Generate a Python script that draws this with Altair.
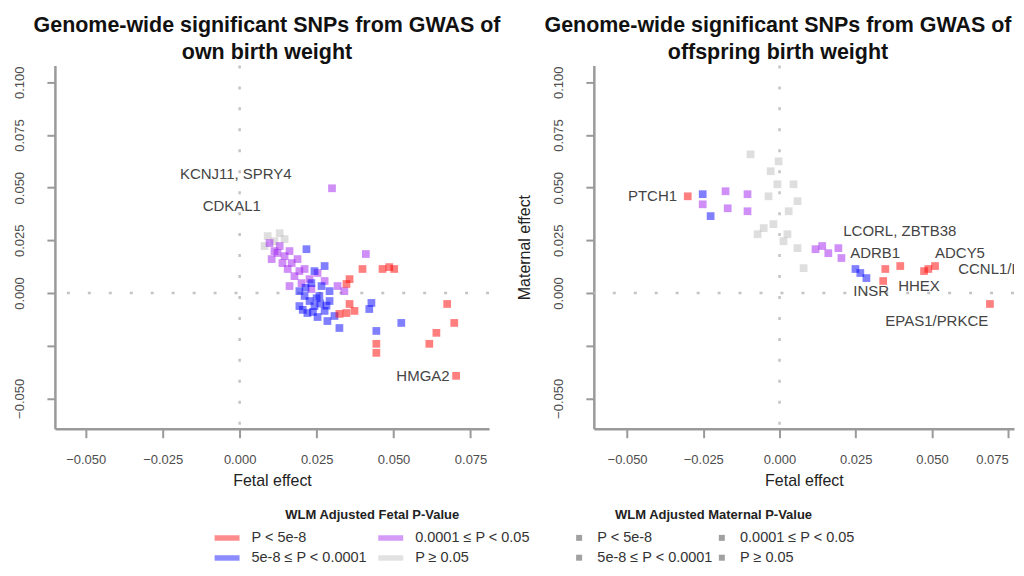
import altair as alt
import pandas as pd

FONT = "Liberation Sans"

# P-value categories (legends fill column by column: red, blue | purple, grey)
CATS = ["P < 5e-8", "5e-8 ≤ P < 0.0001", "0.0001 ≤ P < 0.05", "P ≥ 0.05"]
PALETTE = ["#ff0000", "#0000ff", "#a020f0", "#bebebe"]
KEY_GREY = ["#8a8a8a"] * 4

X_TICKS = [-0.05, -0.025, 0.0, 0.025, 0.05, 0.075]
Y_TICKS = [-0.05, -0.025, 0.0, 0.025, 0.05, 0.075, 0.1]

# ---------- left panel: own birth weight (coloured by fetal P) ----------
L_grey_x = [0.0091, 0.0113, 0.0130, 0.0081, 0.0146]
L_grey_y = [0.0270, 0.0246, 0.0284, 0.0223, 0.0256]
L_purple_x = [0.0300, 0.0410, 0.0097, 0.0113, 0.0130, 0.0146, 0.0162, 0.0139, 0.0169, 0.0188,
              0.0194, 0.0178, 0.0211, 0.0227, 0.0253, 0.0276, 0.0201, 0.0162, 0.0233, 0.0123,
              0.0156, 0.0104, 0.0318, 0.0340]
L_purple_y = [0.0497, 0.0185, 0.0237, 0.0199, 0.0223, 0.0175, 0.0199, 0.0142, 0.0142, 0.0161,
              0.0104, 0.0080, 0.0114, 0.0066, 0.0095, 0.0057, 0.0047, 0.0033, 0.0019, 0.0190,
              0.0114, 0.0161, 0.0033, 0.0009]
L_blue_x = [0.0217, 0.0194, 0.0211, 0.0227, 0.0243, 0.0259, 0.0276, 0.0292, 0.0220, 0.0253,
            0.0194, 0.0233, 0.0266, 0.0292, 0.0308, 0.0285, 0.0243, 0.0276, 0.0324, 0.0428,
            0.0421, 0.0525, 0.0444, 0.0205, 0.0238, 0.0262, 0.0214, 0.0250, 0.0282]
L_blue_y = [0.0208, 0.0009, -0.0014, -0.0038, -0.0062, -0.0014, -0.0085, -0.0038, -0.0095, -0.0114,
            -0.0062, 0.0047, 0.0033, 0.0009, -0.0109, -0.0133, 0.0104, 0.0128, -0.0166, -0.0047,
            -0.0076, -0.0142, -0.0180, -0.0080, -0.0090, -0.0050, 0.0025, -0.0025, -0.0060]
L_red_x = [0.0399, 0.0464, 0.0486, 0.0502, 0.0347, 0.0357, 0.0357, 0.0347, 0.0324, 0.0373,
           0.0444, 0.0444, 0.0674, 0.0697, 0.0639, 0.0616, 0.0703]
L_red_y = [0.0114, 0.0114, 0.0123, 0.0114, 0.0043, 0.0066, -0.0052, -0.0095, -0.0099, -0.0085,
           -0.0241, -0.0284, -0.0052, -0.0142, -0.0189, -0.0241, -0.0393]
L_lab_text = ["KCNJ11, SPRY4", "CDKAL1", "HMGA2"]
L_lab_x = [-0.0194, -0.0120, 0.0509]
L_lab_y = [0.0563, 0.0412, -0.0393]

# ---------- right panel: offspring birth weight (coloured by maternal P) ----------
R_grey_x = [-0.0095, -0.0029, -0.0007, 0.0046, 0.0059, -0.0052, -0.0020, 0.0026, 0.0059, 0.0079,
            -0.0072, 0.0013, -0.0036, 0.0030, -0.0003]
R_grey_y = [0.0658, 0.0578, 0.0516, 0.0516, 0.0436, 0.0308, 0.0327, 0.0279, 0.0213, 0.0118,
            0.0279, 0.0246, 0.0459, 0.0388, 0.0625]
R_purple_x = [-0.0252, -0.0177, -0.0170, -0.0105, -0.0105, 0.0118, 0.0160, 0.0193, 0.0203, 0.0140]
R_purple_y = [0.0421, 0.0483, 0.0402, 0.0469, 0.0388, 0.0208, 0.0189, 0.0213, 0.0166, 0.0223]
R_blue_x = [-0.0252, -0.0226, 0.0249, 0.0285, 0.0265]
R_blue_y = [0.0469, 0.0365, 0.0114, 0.0071, 0.0095]
R_red_x = [-0.0301, 0.0347, 0.0396, 0.0340, 0.0488, 0.0510, 0.0474, 0.0690]
R_red_y = [0.0459, 0.0114, 0.0128, 0.0057, 0.0114, 0.0128, 0.0104, -0.0052]
R_lab_text = ["PTCH1", "LCORL, ZBTB38", "ADRB1", "ADCY5", "CCNL1/LEKR1", "HHEX", "INSR", "EPAS1/PRKCE"]
R_lab_x = [-0.0497, 0.0209, 0.0232, 0.0510, 0.0586, 0.0389, 0.0242, 0.0347]
R_lab_y = [0.0459, 0.0294, 0.0189, 0.0189, 0.0114, 0.0033, 0.0009, -0.0133]


def points(groups):
    rows = []
    for xs, ys, cat in groups:
        for x, y in zip(xs, ys):
            rows.append({"x": x, "y": y, "cat": cat})
    return pd.DataFrame(rows)


left_df = points([(L_grey_x, L_grey_y, CATS[3]), (L_purple_x, L_purple_y, CATS[2]),
                  (L_blue_x, L_blue_y, CATS[1]), (L_red_x, L_red_y, CATS[0])])
right_df = points([(R_grey_x, R_grey_y, CATS[3]), (R_purple_x, R_purple_y, CATS[2]),
                   (R_blue_x, R_blue_y, CATS[1]), (R_red_x, R_red_y, CATS[0])])
left_lab = pd.DataFrame({"x": L_lab_x, "y": L_lab_y, "t": L_lab_text})
right_lab = pd.DataFrame({"x": R_lab_x, "y": R_lab_y, "t": R_lab_text})
zero = pd.DataFrame({"v": [0.0]})

AX = dict(grid=False, domainColor="#9a9a9a", domainWidth=2.5, tickColor="#9a9a9a", tickWidth=2,
          labelFontSize=13, labelColor="#4d4d4d", labelFont=FONT, titleFont=FONT,
          titleFontSize=16, titleColor="#222222", titleFontWeight="normal")

LEG = dict(orient="none", legendY=444, columns=2, titleAnchor="middle", titleLimit=400,
           labelFontSize=14.5, labelFont=FONT, labelColor="#333333", titleFontSize=13, titleFont=FONT,
           titleFontWeight="bold", titleColor="#222222")


def panel(df, lab, xdom, ytitle, title_lines, which, width, title_dx):
    xs = alt.Scale(domain=xdom, nice=False, zero=False)
    ys = alt.Scale(domain=[-0.0644, 0.108], nice=False, zero=False)
    xaxis = alt.Axis(values=X_TICKS, format=".3f", tickSize=9, labelPadding=16, titlePadding=6,
                     labelFlush=10, **AX)
    yaxis = alt.Axis(values=Y_TICKS, labelExpr="datum.value == -0.025 ? '' : format(datum.value, '.3f')",
                     labelAngle=270, tickSize=8, labelPadding=20, titlePadding=20, **AX)
    xenc = alt.X("x:Q", scale=xs, axis=xaxis, title="Fetal effect")
    yenc = alt.Y("y:Q", scale=ys, axis=yaxis, title=ytitle)

    vrule = alt.Chart(zero).mark_rule(color="#c4c4c4", strokeWidth=2.5, strokeDash=[3, 18]).encode(
        x=alt.X("v:Q", scale=xs))
    hrule = alt.Chart(zero).mark_rule(color="#c4c4c4", strokeWidth=2.5, strokeDash=[3, 18]).encode(
        y=alt.Y("v:Q", scale=ys))

    if which == "left":
        legend = alt.Legend(title="WLM Adjusted Fetal P-Value", legendX=160, columnPadding=11,
                            rowPadding=1, titlePadding=4,
                            symbolType="M-1,-0.22L1,-0.22L1,0.22L-1,0.22Z", symbolSize=625,
                            symbolOpacity=0.45, symbolStrokeWidth=0, labelOffset=12, **LEG)
        color = alt.Color("cat:N", scale=alt.Scale(domain=CATS, range=PALETTE), legend=legend)
    else:
        color = alt.Color("cat:N", scale=alt.Scale(domain=CATS, range=PALETTE), legend=None)
    pts = alt.Chart(df).mark_square(size=60, opacity=0.5).encode(x=xenc, y=yenc, color=color)
    text = alt.Chart(lab).mark_text(align="left", baseline="middle", fontSize=15, font=FONT,
                                    color="#444444", clip=True).encode(
        x=alt.X("x:Q", scale=xs), y=alt.Y("y:Q", scale=ys), text="t:N")
    layers = [vrule, hrule, pts, text]
    if which == "right":
        key_legend = alt.Legend(title="WLM Adjusted Maternal P-Value", legendX=-22, columnPadding=1,
                                rowPadding=5, titlePadding=9, symbolType="square", symbolSize=36,
                                symbolOpacity=0.8, labelOffset=11, **LEG)
        keys = alt.Chart(df).mark_square(size=0).encode(
            x=alt.X("x:Q", scale=xs), y=alt.Y("y:Q", scale=ys),
            color=alt.Color("cat:N", scale=alt.Scale(domain=CATS, range=KEY_GREY), legend=key_legend))
        layers.append(keys)
    out = alt.layer(*layers)
    if which == "right":
        out = out.resolve_scale(color="independent")
    return out.properties(
        width=width, height=364,
        title=alt.TitleParams(text=title_lines, fontSize=21.5, fontWeight="bold", font=FONT,
                              color="#111111", anchor="middle", frame="group", lineHeight=27,
                              offset=1, dx=title_dx))


left = panel(left_df, left_lab, [-0.06, 0.081], None,
             ["Genome-wide significant SNPs from GWAS of", "own birth weight"], "left", 435, -5)
right = panel(right_df, right_lab, [-0.0609, 0.0769], "Maternal effect",
              ["Genome-wide significant SNPs from GWAS of", "offspring birth weight"], "right", 421, -26)

chart = alt.hconcat(left, right, spacing=105, bounds="flush").resolve_scale(
    color="independent", x="independent", y="independent"
).properties(
    padding={"left": 5, "top": 6, "right": 0, "bottom": 0}
).configure_view(strokeWidth=0)

chart.save("out.html", embed_options={"renderer": "svg", "actions": False})
